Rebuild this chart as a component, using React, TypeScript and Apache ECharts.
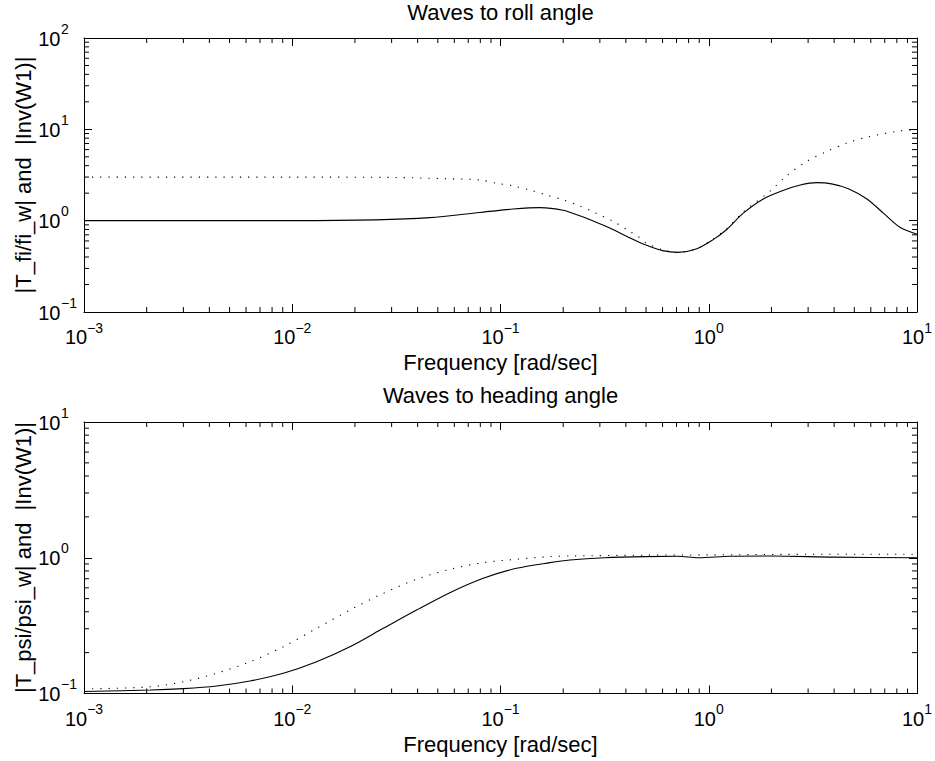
import React, { useEffect, useRef } from "react";
import * as echarts from "echarts";

// ---------- data ----------
// Top plot: Waves to roll angle
const rollFreq = [0.001, 0.00316, 0.01, 0.0251, 0.0457, 0.0794, 0.115, 0.155, 0.2, 0.24, 0.288, 0.347, 0.417, 0.5, 0.6, 0.71, 0.87, 1.05, 1.22, 1.46, 1.82, 2.29, 2.75, 3.31, 3.89, 4.68, 5.75, 6.92, 8.32, 10];
const rollSolid = [1.0, 1.0, 1.0, 1.02, 1.08, 1.23, 1.34, 1.39, 1.3, 1.13, 0.96, 0.8, 0.65, 0.54, 0.47, 0.45, 0.49, 0.62, 0.8, 1.2, 1.72, 2.15, 2.46, 2.61, 2.53, 2.24, 1.73, 1.2, 0.84, 0.71];
const rollFreqW = [0.001, 0.01, 0.0316, 0.0551, 0.0796, 0.0957, 0.115, 0.138, 0.166, 0.2, 0.24, 0.289, 0.348, 0.418, 0.458, 0.5, 0.6, 0.71, 0.87, 1.05, 1.22, 1.46, 1.57, 1.96, 2.36, 2.94, 3.67, 4.58, 5.71, 8.26, 10];
const rollInvW1 = [3.0, 3.0, 2.97, 2.88, 2.79, 2.57, 2.4, 2.17, 1.91, 1.69, 1.45, 1.2, 0.98, 0.76, 0.67, 0.57, 0.48, 0.45, 0.49, 0.63, 0.82, 1.24, 1.42, 2.08, 3.09, 4.43, 5.69, 7.04, 8.18, 9.6, 9.84];

// Bottom plot: Waves to heading angle
const headFreq = [0.001, 0.002075, 0.003, 0.004335, 0.006266, 0.009057, 0.01309, 0.01892, 0.02735, 0.03954, 0.05715, 0.0826, 0.1194, 0.1726, 0.2153, 0.316, 0.5, 0.71, 0.89, 1.26, 2.0, 3.98, 10];
const headSolid = [0.1035, 0.106, 0.1086, 0.1135, 0.1236, 0.141, 0.1715, 0.221, 0.302, 0.412, 0.553, 0.706, 0.836, 0.92, 0.962, 1.0, 1.02, 1.025, 1.0, 1.025, 1.03, 1.01, 1.0];
const headFreqW = [0.001, 0.002075, 0.003, 0.004335, 0.006266, 0.009057, 0.01309, 0.01892, 0.02735, 0.03954, 0.05715, 0.0826, 0.1194, 0.1726, 0.2153, 0.5, 1.0, 3.16, 10];
const headInvW1 = [0.108, 0.112, 0.122, 0.141, 0.171, 0.221, 0.302, 0.412, 0.547, 0.694, 0.822, 0.92, 0.975, 1.02, 1.03, 1.045, 1.05, 1.06, 1.06];

// Tick label exponents (labels read "10^e")
const xTickExps = [-3, -2, -1, 0, 1];
const rollYTickExps = [-1, 0, 1, 2];
const headYTickExps = [-1, 0, 1];

const titles = ["Waves to roll angle", "Waves to heading angle"];
const xName = "Frequency [rad/sec]";
const yNames = ["|T_fi/fi_w| and  |Inv(W1)|", "|T_psi/psi_w| and  |Inv(W1)|"];

// ---------- helpers ----------
const FONT = "'Liberation Sans', Arial, Helvetica, sans-serif";
const BASE_SIZE = 20;
const EXP_SIZE = 14;

const pairs = (xs: number[], ys: number[]) => xs.map((x, i) => [x, ys[i]]);
const first = (a: number[]) => a[0];
const last = (a: number[]) => a[a.length - 1];

let measureCtx: CanvasRenderingContext2D | null = null;
function measure(s: string, size: number) {
  if (!measureCtx && typeof document !== "undefined") {
    measureCtx = document.createElement("canvas").getContext("2d");
  }
  if (!measureCtx) return s.length * size * 0.556;
  measureCtx.font = `${size}px ${FONT}`;
  return measureCtx.measureText(s).width;
}

function minorValues(lo: number, hi: number) {
  const out: number[] = [];
  for (let d = lo; d < hi; d++) for (let m = 2; m <= 9; m++) out.push(m * Math.pow(10, d));
  return out;
}

const expText = (e: number) => `${e < 0 ? "\u2212" : ""}${Math.abs(e)}`;

const blackLine = { color: "#000", width: 1 };

function xAxis(grid: number, pos: "bottom" | "top") {
  return {
    type: "log",
    logBase: 10,
    gridIndex: grid,
    position: pos,
    min: Math.pow(10, first(xTickExps)),
    max: Math.pow(10, last(xTickExps)),
    axisLine: { show: true, onZero: false, lineStyle: blackLine },
    axisTick: { show: true, inside: true, length: 8, lineStyle: blackLine },
    axisLabel: { show: false },
    splitLine: { show: false },
    minorTick: { show: false },
  };
}

function yAxis(grid: number, pos: "left" | "right", exps: number[]) {
  return {
    type: "log",
    logBase: 10,
    gridIndex: grid,
    position: pos,
    min: Math.pow(10, first(exps)),
    max: Math.pow(10, last(exps)),
    axisLine: { show: true, onZero: false, lineStyle: blackLine },
    axisTick: { show: true, inside: true, length: 8, lineStyle: blackLine },
    axisLabel: { show: false },
    splitLine: { show: false },
    minorTick: { show: false },
  };
}

function minorTickSeries(grid: number, axis: "x" | "y", values: number[]) {
  const L = 5;
  const st = { stroke: "#000", lineWidth: 1 };
  return {
    type: "custom",
    xAxisIndex: grid * 2,
    yAxisIndex: grid * 2,
    silent: true,
    z: 5,
    data: values.map((v) => (axis === "x" ? [v, 1] : [1, v])),
    encode: { x: 0, y: 1 },
    renderItem: (params: any, api: any) => {
      const cs = params.coordSys;
      const p = api.coord([api.value(0), api.value(1)]);
      if (axis === "x") {
        const x = p[0];
        return {
          type: "group",
          children: [
            { type: "line", shape: { x1: x, y1: cs.y + cs.height, x2: x, y2: cs.y + cs.height - L }, style: st },
            { type: "line", shape: { x1: x, y1: cs.y, x2: x, y2: cs.y + L }, style: st },
          ],
        };
      }
      const y = p[1];
      return {
        type: "group",
        children: [
          { type: "line", shape: { x1: cs.x, y1: y, x2: cs.x + L, y2: y }, style: st },
          { type: "line", shape: { x1: cs.x + cs.width, y1: y, x2: cs.x + cs.width - L, y2: y }, style: st },
        ],
      };
    },
  };
}

// "10^e" tick labels placed through the axis scale
function tickLabelSeries(grid: number, axis: "x" | "y", exps: number[]) {
  const txt = (s: string, size: number, x: number, y: number, align: string) => ({
    type: "text",
    x,
    y,
    silent: true,
    style: { text: s, fontSize: size, fontFamily: FONT, fill: "#000", align, verticalAlign: "middle" },
  });
  return {
    type: "custom",
    xAxisIndex: grid * 2,
    yAxisIndex: grid * 2,
    silent: true,
    clip: false,
    z: 6,
    data: exps.map((e) => (axis === "x" ? [Math.pow(10, e), 1] : [1, Math.pow(10, e)])),
    encode: { x: 0, y: 1 },
    renderItem: (params: any, api: any) => {
      const cs = params.coordSys;
      const p = api.coord([api.value(0), api.value(1)]);
      const es = expText(exps[params.dataIndex]);
      const wb = measure("10", BASE_SIZE);
      const we = measure(es, EXP_SIZE);
      if (axis === "x") {
        const left = p[0] - (wb + we) / 2;
        const yb = cs.y + cs.height + 25;
        return {
          type: "group",
          children: [txt("10", BASE_SIZE, left, yb, "left"), txt(es, EXP_SIZE, left + wb, yb - 9.5, "left")],
        };
      }
      const baseRight = cs.x - 23.5;
      return {
        type: "group",
        children: [
          txt("10", BASE_SIZE, baseRight, p[1] + 0.7, "right"),
          txt(es, EXP_SIZE, baseRight + 0.5, p[1] - 9.5, "left"),
        ],
      };
    },
  };
}

function lineSeries(grid: number, data: number[][], dotted: boolean) {
  return {
    type: "line",
    xAxisIndex: grid * 2,
    yAxisIndex: grid * 2,
    data,
    showSymbol: false,
    symbol: "none",
    smooth: 0.3,
    clip: true,
    silent: true,
    z: 3,
    lineStyle: dotted ? { color: "#000", width: 1.1, type: [1.2, 7] } : { color: "#000", width: 1.1 },
  };
}

function text(str: string, x: number, y: number, rotation = 0) {
  return {
    type: "text",
    x,
    y,
    rotation,
    silent: true,
    style: { text: str, fontSize: 22, fontFamily: FONT, fill: "#000", align: "center", verticalAlign: "middle" },
  };
}

export default function App() {
  const ref = useRef<HTMLDivElement>(null);
  useEffect(() => {
    const chart = echarts.init(ref.current!, null, { renderer: "svg" });
    const xMinor = minorValues(first(xTickExps), last(xTickExps));
    const option: any = {
      animation: false,
      backgroundColor: "#fff",
      grid: [
        { left: 84, top: 38, width: 833, height: 274, containLabel: false, outerBoundsMode: "none" },
        { left: 84, top: 422, width: 833, height: 271.5, containLabel: false, outerBoundsMode: "none" },
      ],
      xAxis: [xAxis(0, "bottom"), xAxis(0, "top"), xAxis(1, "bottom"), xAxis(1, "top")],
      yAxis: [
        yAxis(0, "left", rollYTickExps),
        yAxis(0, "right", rollYTickExps),
        yAxis(1, "left", headYTickExps),
        yAxis(1, "right", headYTickExps),
      ],
      series: [
        lineSeries(0, pairs(rollFreq, rollSolid), false),
        lineSeries(0, pairs(rollFreqW, rollInvW1), true),
        lineSeries(1, pairs(headFreq, headSolid), false),
        lineSeries(1, pairs(headFreqW, headInvW1), true),
        minorTickSeries(0, "x", xMinor),
        minorTickSeries(0, "y", minorValues(first(rollYTickExps), last(rollYTickExps))),
        minorTickSeries(1, "x", xMinor),
        minorTickSeries(1, "y", minorValues(first(headYTickExps), last(headYTickExps))),
        tickLabelSeries(0, "x", xTickExps),
        tickLabelSeries(0, "y", rollYTickExps),
        tickLabelSeries(1, "x", xTickExps),
        tickLabelSeries(1, "y", headYTickExps),
      ],
      graphic: [
        text(titles[0], 500.5, 12),
        text(xName, 500.5, 362.5),
        text(titles[1], 500.5, 395),
        text(xName, 500.5, 744),
        text(yNames[0], 23.5, 175, Math.PI / 2),
        text(yNames[1], 23.5, 557.5, Math.PI / 2),
      ],
    };
    chart.setOption(option);
    return () => chart.dispose();
  }, []);
  return (
    <div
      ref={ref}
      style={{ position: "absolute", left: 0, top: 0, width: 935, height: 761, background: "#fff" }}
    />
  );
}
